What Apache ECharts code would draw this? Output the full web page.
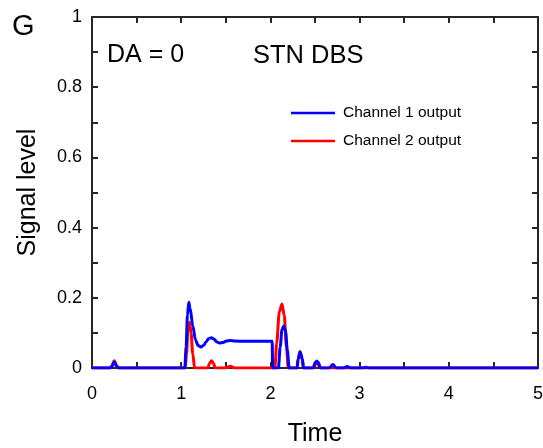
<!DOCTYPE html>
<html>
<head>
<meta charset="utf-8">
<script src="https://cdn.jsdelivr.net/npm/echarts@6/dist/echarts.min.js"></script>
<style>
  html, body { margin: 0; padding: 0; background: #fff; }
  #chart { width: 543px; height: 448px; }
</style>
</head>
<body>
<div id="chart"></div>
<script>
// channel 1 (blue) – time / signal pairs
const ch1Time = [0, 0.2, 0.22, 0.25, 0.28, 0.3, 1.04, 1.055, 1.07, 1.085, 1.1, 1.13, 1.16, 1.19, 1.22, 1.25, 1.28, 1.31, 1.34, 1.37, 1.4, 1.43, 1.47, 1.51, 1.55, 1.6, 1.7, 1.8, 1.9, 2.02, 2.025, 2.09, 2.11, 2.13, 2.15, 2.17, 2.19, 2.21, 2.3, 2.31, 2.335, 2.36, 2.37, 2.48, 2.5, 2.52, 2.54, 2.56, 2.66, 2.7, 2.74, 2.82, 2.86, 2.9, 3.03, 3.07, 3.11, 5];
const ch1Signal = [0, 0, 0.004, 0.017, 0.004, 0, 0, 0.06, 0.15, 0.187, 0.17, 0.12, 0.08, 0.064, 0.06, 0.064, 0.075, 0.084, 0.086, 0.082, 0.074, 0.071, 0.073, 0.077, 0.078, 0.077, 0.076, 0.076, 0.076, 0.076, 0, 0, 0.06, 0.11, 0.12, 0.105, 0.05, 0, 0, 0.025, 0.045, 0.025, 0, 0, 0.015, 0.02, 0.015, 0, 0, 0.01, 0, 0, 0.004, 0, 0, 0.002, 0, 0];

// channel 2 (red)
const ch2Time = [0, 0.2, 0.22, 0.25, 0.28, 0.3, 1.045, 1.06, 1.075, 1.094, 1.11, 1.13, 1.15, 1.3, 1.315, 1.34, 1.365, 1.38, 1.5, 1.55, 1.6, 2.05, 2.07, 2.1, 2.13, 2.155, 2.18, 2.2, 2.3, 2.31, 2.33, 2.355, 2.37, 2.48, 2.52, 2.56, 5];
const ch2Signal = [0, 0, 0.005, 0.021, 0.005, 0, 0, 0.04, 0.11, 0.13, 0.1, 0.04, 0, 0, 0.012, 0.021, 0.012, 0, 0, 0.005, 0, 0, 0.07, 0.16, 0.182, 0.15, 0.06, 0, 0, 0.025, 0.047, 0.025, 0, 0, 0.016, 0, 0];

const xTickLabels = ['0', '1', '2', '3', '4', '5'];
const yTickLabels = ['0', '0.2', '0.4', '0.6', '0.8', '1'];

const axisColor = '#262626';
const font = 'Liberation Sans, Arial, sans-serif';

const pairs = (t, v) => t.map((x, i) => [x, v[i]]);

const chart = echarts.init(document.getElementById('chart'));

const xBase = {
  type: 'value', min: 0, max: 5, interval: 0.5,
  axisLine: { show: true, onZero: false, lineStyle: { color: axisColor, width: 2 } },
  axisTick: { show: true, inside: true, length: 6, lineStyle: { color: axisColor, width: 2 } },
  splitLine: { show: false }
};
const yBase = {
  type: 'value', min: 0, max: 1, interval: 0.1,
  axisLine: { show: true, onZero: false, lineStyle: { color: axisColor, width: 2 } },
  axisTick: { show: true, inside: true, length: 6, lineStyle: { color: axisColor, width: 2 } },
  splitLine: { show: false }
};

chart.setOption({
  animation: false,
  backgroundColor: '#fff',
  grid: { left: 92, right: 5, top: 17, bottom: 80, containLabel: false, outerBoundsMode: 'none' },
  xAxis: [
    Object.assign({}, xBase, {
      position: 'bottom',
      name: 'Time', nameLocation: 'middle', nameGap: 54,
      nameTextStyle: { color: '#000', fontSize: 25, fontFamily: font },
      axisLabel: {
        color: '#000', fontSize: 18, fontFamily: font, margin: 17,
        formatter: v => Math.abs(v - Math.round(v)) < 1e-6 ? xTickLabels[Math.round(v)] : ''
      }
    }),
    Object.assign({}, xBase, { position: 'top', axisLabel: { show: false } })
  ],
  yAxis: [
    Object.assign({}, yBase, {
      position: 'left',
      name: 'Signal level', nameLocation: 'middle', nameGap: 51,
      nameTextStyle: { color: '#000', fontSize: 25, fontFamily: font },
      axisLabel: {
        color: '#000', fontSize: 18, fontFamily: font, margin: 10,
        formatter: v => {
          const k = Math.round(v * 10);
          return k % 2 === 0 ? yTickLabels[k / 2] : '';
        }
      }
    }),
    Object.assign({}, yBase, { position: 'right', axisLabel: { show: false } })
  ],
  legend: {
    data: ['Channel 1 output', 'Channel 2 output'],
    orient: 'vertical',
    left: 286, top: 100,
    icon: 'rect', itemWidth: 44, itemHeight: 2.5, itemGap: 12,
    textStyle: { color: '#000', fontSize: 15.5, fontFamily: font, padding: [0, 0, 0, 3] }
  },
  graphic: [
    { type: 'text', left: 12, top: 12, style: { text: 'G', fontSize: 29, fontFamily: font, fill: '#000' } },
    { type: 'text', left: 107, top: 43, style: { text: 'DA = 0', fontSize: 25, fontFamily: font, fill: '#000' } },
    { type: 'text', left: 253, top: 43, style: { text: 'STN DBS', fontSize: 25.5, fontFamily: font, fill: '#000' } }
  ],
  series: [
    {
      name: 'Channel 2 output', type: 'line', data: pairs(ch2Time, ch2Signal),
      showSymbol: false, smooth: 0.3, smoothMonotone: 'x',
      lineStyle: { color: '#ff0000', width: 3 }, itemStyle: { color: '#ff0000' }
    },
    {
      name: 'Channel 1 output', type: 'line', data: pairs(ch1Time, ch1Signal),
      showSymbol: false, smooth: 0.3, smoothMonotone: 'x',
      lineStyle: { color: '#0000ff', width: 3 }, itemStyle: { color: '#0000ff' }
    }
  ]
});
</script>
</body>
</html>
